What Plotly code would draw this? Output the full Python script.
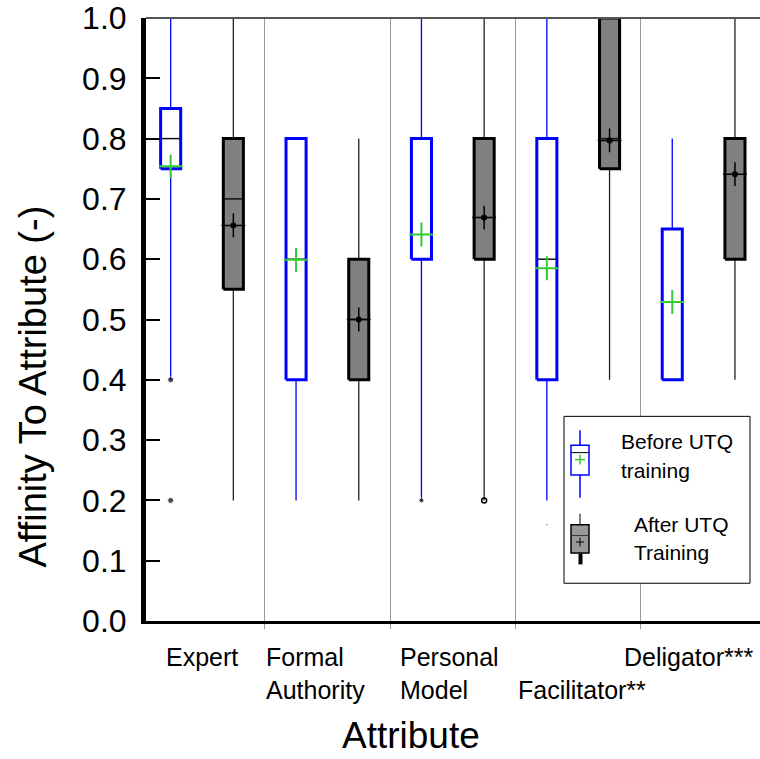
import plotly.graph_objects as go

# ---------------- data ----------------
categories = ["Expert", "Formal Authority", "Personal Model", "Facilitator", "Deligator"]
tick_labels = ["Expert", "Formal<br>Authority", "Personal<br>Model", "Facilitator**", "Deligator***"]

before_low = [0.40, 0.20, 0.20, 0.20, 0.40]
before_q1 = [0.75, 0.40, 0.60, 0.40, 0.40]
before_median = [0.80, 0.60, 0.60, 0.60, 0.40]
before_q3 = [0.85, 0.80, 0.80, 0.80, 0.65]
before_high = [1.00, 0.80, 1.00, 1.00, 0.80]
before_mean = [0.754, 0.599, 0.641, 0.585, 0.529]
before_outlier_cat = [0, 0, 2, 3]
before_outlier_val = [0.40, 0.20, 0.20, 0.16]

after_low = [0.20, 0.20, 0.20, 0.40, 0.40]
after_q1 = [0.55, 0.40, 0.60, 0.75, 0.60]
after_median = [0.70, 0.50, 0.60, 0.80, 0.80]
after_q3 = [0.80, 0.60, 0.80, 1.00, 0.80]
after_high = [1.00, 0.80, 1.00, 1.00, 1.00]
after_mean = [0.656, 0.500, 0.669, 0.797, 0.741]
after_outlier_cat = [2]
after_outlier_val = [0.20]

y_ticks = [0.0, 0.1, 0.2, 0.3, 0.4, 0.5, 0.6, 0.7, 0.8, 0.9, 1.0]

# ---------------- style ----------------
W, H = 760, 759
ML, MR, MT, MB = 146, 0, 14, 138
PW, PH = W - ML - MR, H - MT - MB
XMIN = -0.4466
XMAX = XMIN + PW / 125.4
OFF = 0.25      # group offset within a category
HW = 0.08       # half box width
FONT = "Liberation Sans, Arial, sans-serif"
BLUE = "#0000ff"
GREEN = "#33cc33"
GRAY = "#808080"


def px(xp, yp):
    return (xp - ML) / PW, (MT + PH - yp) / PH


fig = go.Figure()


def add_group(low, q1, med, q3, high, mean, shift, edge, fill, wcol, mcol, after):
    pos = [i + shift for i in range(len(categories))]
    wx, wy, bx, by, mx, my = [], [], [], [], [], []
    for p, lo, a, m, b, hi in zip(pos, low, q1, med, q3, high):
        wx += [p, p, None]
        wy += [lo, hi, None]
        bx += [p - HW, p + HW, p + HW, p - HW, p - HW, None]
        by += [a, a, b, b, a, None]
        mx += [p - HW, p + HW, None]
        my += [m, m, None]
    fig.add_trace(go.Scatter(x=wx, y=wy, mode="lines", line=dict(color=wcol, width=1.3),
                             hoverinfo="skip", showlegend=False))
    fig.add_trace(go.Scatter(x=bx, y=by, mode="lines", fill="toself", fillcolor=fill,
                             line=dict(width=0), hoverinfo="skip", showlegend=False))
    fig.add_trace(go.Scatter(x=mx, y=my, mode="lines", line=dict(color="#111111", width=1.5),
                             hoverinfo="skip", showlegend=False))
    fig.add_trace(go.Scatter(x=bx, y=by, mode="lines", line=dict(color=edge, width=3),
                             hoverinfo="skip", showlegend=False))
    fig.add_trace(go.Scatter(x=pos, y=mean, mode="markers",
                             marker=dict(symbol="cross-thin", size=17,
                                         line=dict(color=mcol, width=2 if not after else 1.5)),
                             showlegend=False))
    if after:
        fig.add_trace(go.Scatter(x=pos, y=mean, mode="markers",
                                 marker=dict(symbol="circle", size=6, color="black"),
                                 showlegend=False))


add_group(before_low, before_q1, before_median, before_q3, before_high, before_mean,
          -OFF, BLUE, "white", BLUE, GREEN, False)
add_group(after_low, after_q1, after_median, after_q3, after_high, after_mean,
          OFF, "black", GRAY, "#222222", "black", True)

# outliers
fig.add_trace(go.Scatter(x=[c - OFF for c in before_outlier_cat], y=before_outlier_val,
                         mode="markers",
                         marker=dict(symbol="circle", size=[6, 6, 5, 2], color="black"),
                         showlegend=False))
fig.add_trace(go.Scatter(x=[c + OFF for c in after_outlier_cat], y=after_outlier_val,
                         mode="markers",
                         marker=dict(symbol="circle-open", size=5, color="black",
                                     line=dict(width=1.5)),
                         showlegend=False))

shapes = []
# top border
shapes.append(dict(type="line", xref="paper", yref="paper", x0=0, x1=1, y0=1, y1=1,
                   line=dict(color="#555555", width=2)))

# legend frame
lx0, ly0 = px(564, 415)
lx1, ly1 = px(750, 583)
shapes.append(dict(type="rect", xref="paper", yref="paper", x0=lx0, y0=ly0, x1=lx1, y1=ly1,
                   line=dict(color="black", width=1), fillcolor="white", layer="above"))


def seg(x0, y0, x1, y1, color, width):
    a, b = px(x0, y0)
    c, d = px(x1, y1)
    shapes.append(dict(type="line", xref="paper", yref="paper", x0=a, y0=b, x1=c, y1=d,
                       line=dict(color=color, width=width), layer="above"))


def rect(x0, y0, x1, y1, color, fill, width):
    a, b = px(x0, y0)
    c, d = px(x1, y1)
    shapes.append(dict(type="rect", xref="paper", yref="paper", x0=a, y0=b, x1=c, y1=d,
                       line=dict(color=color, width=width), fillcolor=fill, layer="above"))


# before icon
seg(580, 429, 580, 497, BLUE, 1.5)
rect(571, 444, 589, 474, BLUE, "white", 1.5)
seg(571, 451.5, 589, 451.5, "black", 1)
seg(575, 458.5, 585, 458.5, GREEN, 1.5)
seg(580, 453.5, 580, 463.5, GREEN, 1.5)
# after icon
seg(580, 513, 580, 524, "black", 1)
rect(571, 524, 589, 552.5, "black", "#999999", 1.5)
seg(571, 535, 589, 535, "#333333", 1)
seg(576, 541.5, 584, 541.5, "black", 1)
seg(580, 537, 580, 546, "black", 1)
rect(578.5, 553, 582.5, 564, "black", "black", 0)

annotations = []
for txt, x0, yb in [("Before UTQ", 618.5, 440), ("training", 618.5, 469),
                    ("After UTQ", 632, 524), ("Training", 632, 552)]:
    ax, ay = px(x0, yb)
    annotations.append(dict(xref="paper", yref="paper", x=ax, y=ay, text=txt, showarrow=False,
                            xanchor="left", yanchor="middle",
                            font=dict(family=FONT, size=21, color="black")))

# category labels
label_xshift = [0, -12, -3, 4, -15]
label_yshift = [0, 0, 0, -33, 0]
for i, lab in enumerate(tick_labels):
    annotations.append(dict(xref="x", yref="paper", x=i, y=px(0, 641)[1], text=lab,
                            showarrow=False, xanchor="center", yanchor="top", align="left",
                            xshift=label_xshift[i], yshift=label_yshift[i],
                            font=dict(family=FONT, size=25, color="black")))

# axis titles
tx, ty = px(411, 736)
annotations.append(dict(xref="paper", yref="paper", x=tx, y=ty, text="Attribute",
                        showarrow=False, xanchor="center", yanchor="middle", borderpad=0,
                        font=dict(family=FONT, size=37, color="black")))
tx, ty = px(33, 385)
annotations.append(dict(xref="paper", yref="paper", x=tx, y=ty, text="Affinity To Attribute (-)",
                        showarrow=False, xanchor="center", yanchor="middle", textangle=-90,
                        font=dict(family=FONT, size=38, color="black")))

fig.update_layout(
    width=W, height=H,
    margin=dict(l=ML, r=MR, t=MT, b=MB),
    paper_bgcolor="white", plot_bgcolor="white",
    showlegend=False,
    shapes=shapes,
    annotations=annotations,
    xaxis=dict(range=[XMIN, XMAX], tickvals=[0.5, 1.5, 2.5, 3.5], showticklabels=False,
               showgrid=True, gridcolor="#999999", gridwidth=1,
               ticks="outside", ticklen=5, tickcolor="#999999",
               showline=True, linecolor="black", linewidth=3, zeroline=False, fixedrange=True),
    yaxis=dict(range=[0, 1.0], tickvals=y_ticks, ticktext=[f"{v:.1f}" for v in y_ticks],
               showgrid=False, zeroline=False, showline=True, linecolor="black", linewidth=5,
               ticks="inside", ticklen=14, tickwidth=1.5, tickcolor="black",
               tickfont=dict(family=FONT, size=32, color="black"), ticklabelstandoff=8,
               ticklabeloverflow="allow", fixedrange=True),
)

fig.write_html("out.html", config={"displayModeBar": False},
               post_script="document.body.style.margin='0px';")
